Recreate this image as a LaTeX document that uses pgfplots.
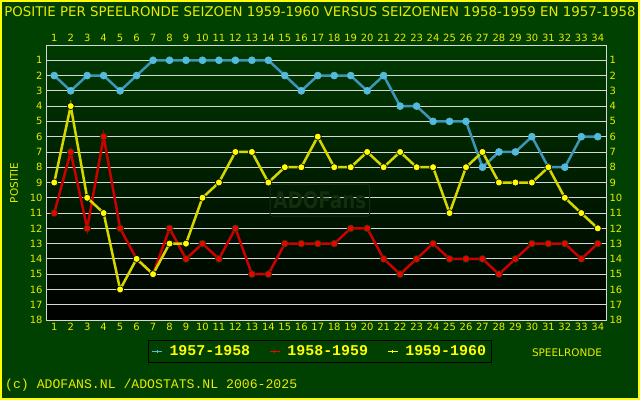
\documentclass[border=0pt]{standalone}
\usepackage{fontspec}
\setmainfont{DejaVu Sans}
\newfontfamily\monofont{Liberation Mono}
\usepackage{pgfplots}
\usepackage{pgfplotstable}
\pgfplotsset{compat=1.18}

\definecolor{bggreen}{RGB}{0,64,0}
\definecolor{plottop}{RGB}{0,58,0}
\definecolor{txtyel}{RGB}{235,235,0}
\definecolor{blueline}{RGB}{60,150,185}
\definecolor{bluemark}{RGB}{85,185,220}
\definecolor{redline}{RGB}{205,0,0}
\definecolor{redmark}{RGB}{240,0,0}
\definecolor{redrim}{RGB}{0,70,0}
\definecolor{yelline}{RGB}{215,215,0}
\definecolor{yelmark}{RGB}{255,255,0}
\definecolor{gridc}{RGB}{215,215,215}
\definecolor{wmark}{RGB}{18,46,14}

% positie per speelronde
\pgfplotstableread{
r   s57 s58 s59
1   2   11  9
2   3   7   4
3   2   12  10
4   2   6   11
5   3   12  16
6   2   14  14
7   1   15  15
8   1   12  13
9   1   14  13
10  1   13  10
11  1   14  9
12  1   12  7
13  1   15  7
14  1   15  9
15  2   13  8
16  3   13  8
17  2   13  6
18  2   13  8
19  2   12  8
20  3   12  7
21  2   14  8
22  4   15  7
23  4   14  8
24  5   13  8
25  5   14  11
26  5   14  8
27  8   14  7
28  7   15  9
29  7   14  9
30  6   13  9
31  8   13  8
32  8   13  10
33  6   14  11
34  6   13  12
}\posdata

\pgfplotsset{
  adobase/.style={
    scale only axis, width=560bp, height=275bp,
    at={(46bp,80bp)}, anchor=south west,
    xmin=0.5, xmax=34.5, ymin=0, ymax=18, y dir=reverse,
    xtick={1,...,34}, ytick={1,...,18},
    major tick length=0pt,
    axis line style={gridc, line width=0.8bp},
    tick label style={font=\fontsize{10}{10}\selectfont, text=txtyel},
    /pgf/number format/assume math mode=true,
  },
  seriesstyle/.style n args={3}{line width=2.5bp, color=#1, mark=*,
    mark size=3.5bp, mark options={fill=#2, draw=#3, line width=0.6bp}},
}

\begin{document}
\begin{tikzpicture}
\useasboundingbox (0,0) rectangle (640bp,400bp);
\fill[bggreen] (0,0) rectangle (640bp,400bp);
\draw[yelmark, line width=2bp] (1bp,1bp) rectangle (639bp,399bp);

\begin{axis}[adobase,
    xticklabel pos=lower, yticklabel pos=lower,
    ymajorgrids, grid style={gridc, line width=0.8bp},
    axis background/.style={top color=plottop, bottom color=black},
    legend style={at={(0.182,-0.0727)}, anchor=north west,
      draw=black, fill=bggreen, line width=0.8bp,
      font=\monofont\bfseries\fontsize{15}{15}\selectfont, text=yelmark,
      inner xsep=3bp, inner ysep=3.5bp},
    legend columns=3, legend cell align=left,
    /tikz/every odd column/.append style={column sep=5bp},
    /tikz/every even column/.append style={column sep=17bp},
    legend image code/.code={
      \draw[#1, line width=1.2bp] (0bp,0bp) -- (10bp,0bp);
      \draw[#1, line width=0.8bp] (5bp,-1.8bp) -- (5bp,1.8bp);
    },
  ]
  \node[draw=wmark, text=wmark, line width=1bp, rounded corners=2bp,
    minimum width=94bp, minimum height=32bp]
    at (axis description cs:0.489,0.436)
    {\scalebox{0.8}[1]{\bfseries\fontsize{23}{23}\selectfont ADOFans}};
  \addplot[seriesstyle={blueline}{bluemark}{bluemark}, forget plot] table[x=r, y=s57] {\posdata};
  \addplot[seriesstyle={redline}{redmark}{redrim}, forget plot] table[x=r, y=s58] {\posdata};
  \addplot[seriesstyle={yelline}{yelmark}{black}, forget plot] table[x=r, y=s59] {\posdata};
  \addlegendimage{draw=bluemark}
  \addlegendentry{1957-1958}
  \addlegendimage{draw=redmark}
  \addlegendentry{1958-1959}
  \addlegendimage{draw=yelmark}
  \addlegendentry{1959-1960}
\end{axis}

\begin{axis}[adobase, xticklabel pos=upper, yticklabel pos=upper]
  \addplot[draw=none] coordinates {(1,1)};
\end{axis}

\node[text=txtyel, font=\fontsize{13.4}{13}\selectfont] at (320bp,388bp)
  {POSITIE PER SPEELRONDE SEIZOEN 1959-1960 VERSUS SEIZOENEN 1958-1959 EN 1957-1958};
\node[text=txtyel, font=\fontsize{10.5}{11}\selectfont, rotate=90] at (14bp,217bp) {POSITIE};
\node[text=txtyel, font=\fontsize{10.5}{11}\selectfont] at (567bp,47bp) {SPEELRONDE};
\node[text=txtyel, anchor=west, inner sep=0pt, font=\monofont\fontsize{13.2}{14}\selectfont]
  at (5bp,15bp) {(c) ADOFANS.NL /ADOSTATS.NL 2006-2025};
\end{tikzpicture}
\end{document}
